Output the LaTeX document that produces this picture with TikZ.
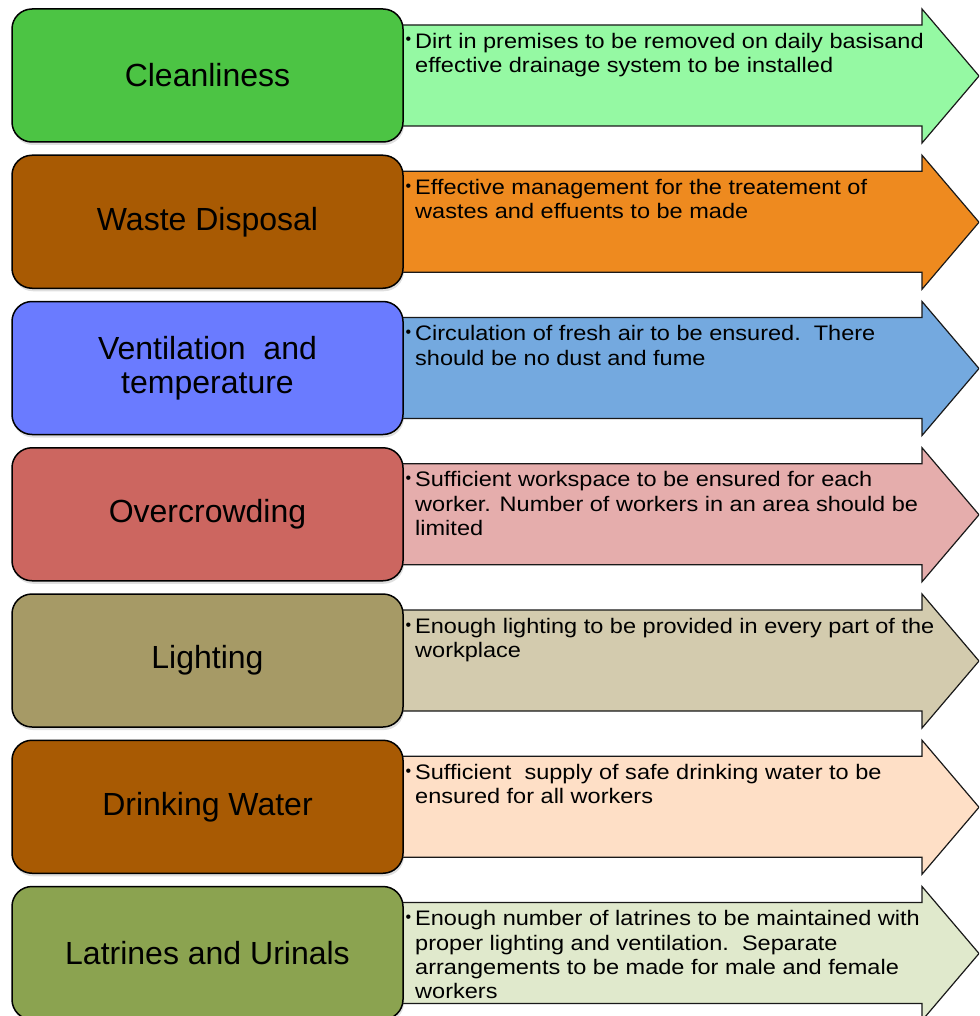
\documentclass[tikz,border=0pt]{standalone}
\usepackage{fontspec}
\setmainfont{Liberation Sans}
\newfontfamily\notefont[FakeStretch=1.12]{Liberation Sans}
\usetikzlibrary{shadows}
\definecolor{cleanBox}{HTML}{4CC444}
\definecolor{cleanBand}{HTML}{95F9A3}
\definecolor{wasteBox}{HTML}{A85A03}
\definecolor{wasteBand}{HTML}{EE8A1F}
\definecolor{ventBox}{HTML}{6A7BFF}
\definecolor{ventBand}{HTML}{74A9DF}
\definecolor{crowdBox}{HTML}{CC6660}
\definecolor{crowdBand}{HTML}{E5ADAC}
\definecolor{lightBox}{HTML}{A69A66}
\definecolor{lightBand}{HTML}{D3CBAE}
\definecolor{waterBox}{HTML}{A85A03}
\definecolor{waterBand}{HTML}{FEDFC6}
\definecolor{latBox}{HTML}{8BA350}
\definecolor{latBand}{HTML}{E0E9CC}

\begin{document}
\begin{tikzpicture}[x=1pt,y=-1pt,
  topic/.style={rectangle,rounded corners=20pt,draw=black,line width=1.5pt,minimum width=391pt,minimum height=133pt,inner sep=0pt,align=center,font=\fontsize{32}{34}\selectfont,drop shadow={shadow xshift=1pt,shadow yshift=-3pt,opacity=0.25}},
  band/.style={draw=black!90,line width=1.2pt,line join=miter},
  note/.style={anchor=north west,inner sep=0pt,align=left,font=\notefont\fontsize{21}{24.3}\selectfont},
  dot/.style={anchor=base,inner sep=0pt,font=\fontsize{16}{16}\selectfont}]
\useasboundingbox (0,0) rectangle (979,1016);
\clip (0,0) rectangle (979,1016);
\foreach \i/\lbl/\boxcol/\bandcol/\txt in {
  0/{Cleanliness}/cleanBox/cleanBand/{Dirt in premises to be removed on daily basisand\\effective drainage system to be installed},
  1/{Waste Disposal}/wasteBox/wasteBand/{Effective management for the treatement of\\wastes and effuents to be made},
  2/{Ventilation\ \ and\\temperature}/ventBox/ventBand/{Circulation of fresh air to be ensured.\ \ There\\should be no dust and fume},
  3/{Overcrowding}/crowdBox/crowdBand/{Sufficient workspace to be ensured for each\\worker. Number of workers in an area should be\\limited},
  4/{Lighting}/lightBox/lightBand/{Enough lighting to be provided in every part of the\\workplace},
  5/{Drinking Water}/waterBox/waterBand/{Sufficient\ \ supply of safe drinking water to be\\ensured for all workers},
  6/{Latrines and Urinals}/latBox/latBand/{Enough number of latrines to be maintained with\\proper lighting and ventilation.\ \ Separate\\arrangements to be made for male and female\\workers}}
{
  \pgfmathsetmacro\rowtop{9+146.25*\i}
  % arrow band behind the topic box
  \draw[band,fill=\bandcol] (395,\rowtop+16) -- (922,\rowtop+16) -- (922,\rowtop) -- (979,\rowtop+67)
    -- (922,\rowtop+134) -- (922,\rowtop+117) -- (395,\rowtop+117) -- cycle;
  \node[topic,fill=\boxcol] (topic-\i) at (207.5,\rowtop+66.5) {\lbl};
  \node[dot] (dot-\i) at (408.5,\rowtop+36) {•};
  \node[note] (note-\i) at (415,\rowtop+22) {\strut\txt};
}
\end{tikzpicture}
\end{document}
